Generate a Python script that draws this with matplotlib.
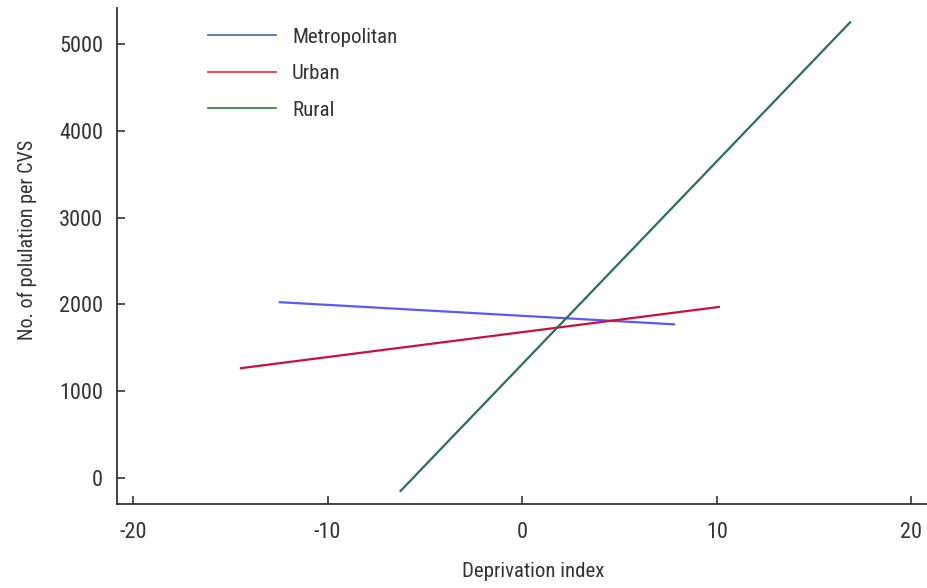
import matplotlib.pyplot as plt
from matplotlib.lines import Line2D

plt.rcParams['font.family'] = ['Roboto Condensed', 'Liberation Sans Narrow',
                               'Roboto', 'DejaVu Sans']
plt.rcParams['axes.unicode_minus'] = False

# fitted lines: x end points and y end points per area
groups = ["Metropolitan", "Urban", "Rural"]
x_ends = [[-12.45, 7.8], [-14.45, 10.1], [-6.25, 16.85]]
y_ends = [[2025, 1770], [1265, 1970], [-150, 5250]]
line_colors = ["#5a5af5", "#c8103c", "#2a6e60"]
legend_colors = ["#3a66c4", "#e0303e", "#2e7a3a"]

fig = plt.figure(figsize=(9.27, 5.88), dpi=100)
ax = fig.add_axes([0.1262, 0.1429, 0.8738, 0.8435])

for xs, ys, c in zip(x_ends, y_ends, line_colors):
    ax.plot(xs, ys, color=c, linewidth=1.6)

ax.set_xlim(-20.82, 20.8)
ax.set_ylim(-300, 5415)
ax.set_xticks([-20, -10, 0, 10, 20])
ax.set_yticks([0, 1000, 2000, 3000, 4000, 5000])
ax.tick_params(direction='in', length=6, width=1.2, colors='#333333',
               labelsize=16, labelcolor='#333333')
ax.tick_params(axis='y', pad=10)
ax.tick_params(axis='x', pad=13)
for s in ['top', 'right']:
    ax.spines[s].set_visible(False)
for s in ['left', 'bottom']:
    ax.spines[s].set_color('#333333')
    ax.spines[s].set_linewidth(1.3)

ax.set_xlabel("Deprivation index", fontsize=15, color='#333333', labelpad=14)
ax.set_ylabel("No. of polulation per CVS", fontsize=14.5, color='#333333', labelpad=16)
ax.xaxis.label.set_x(0.514)
ax.yaxis.label.set_y(0.532)

handles = [Line2D([0], [0], color=c, linewidth=1.2) for c in legend_colors]
ax.legend(handles, groups, loc='upper left', bbox_to_anchor=(0.204, 0.985),
          bbox_transform=fig.transFigure, frameon=False, fontsize=15,
          handlelength=3.27, handletextpad=0.77, labelspacing=0.84,
          labelcolor='#333333')

fig.savefig("out.png", dpi=100)
